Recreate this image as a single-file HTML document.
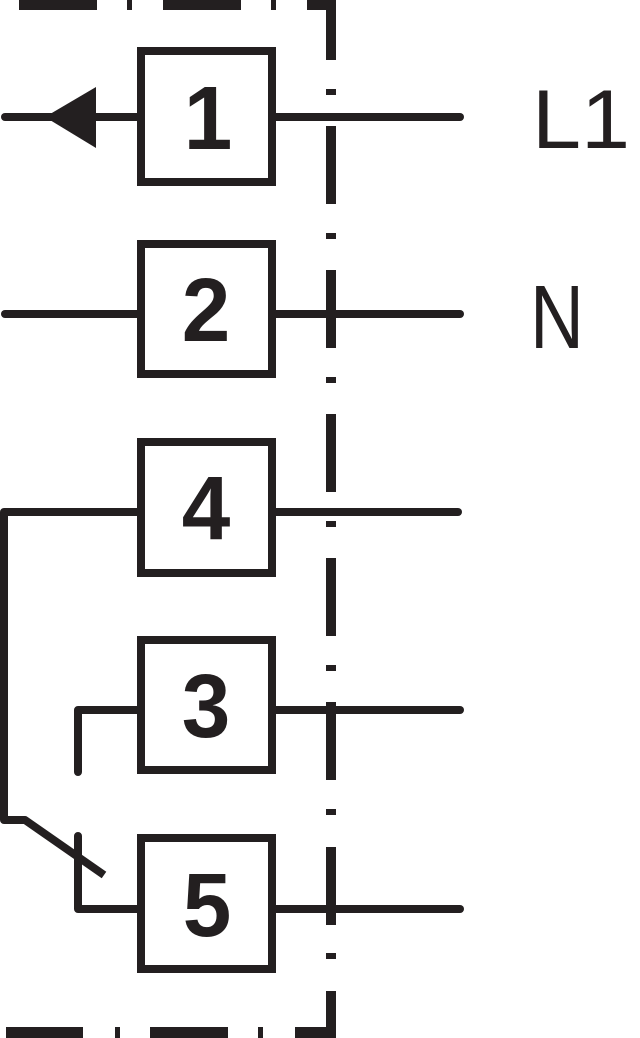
<!DOCTYPE html>
<html><head><style>
html,body{margin:0;padding:0;background:#fff;}
svg{display:block}
text{font-family:"Liberation Sans",sans-serif;fill:#231f20}
</style></head><body>
<svg width="640" height="1038" viewBox="0 0 640 1038">
<g fill="#231f20">
<rect x="19" y="0" width="78" height="10"/>
<rect x="127" y="0" width="5" height="10"/>
<rect x="163" y="0" width="78" height="10"/>
<rect x="271" y="0" width="5" height="10"/>
<rect x="307" y="0" width="29" height="10"/>
<rect x="326" y="0" width="10" height="60"/>
<rect x="326" y="89" width="10" height="6"/>
<rect x="326" y="126" width="10" height="78"/>
<rect x="326" y="233" width="10" height="6"/>
<rect x="326" y="270" width="10" height="78"/>
<rect x="326" y="377" width="10" height="6"/>
<rect x="326" y="414" width="10" height="78"/>
<rect x="326" y="521" width="10" height="6"/>
<rect x="326" y="558" width="10" height="78"/>
<rect x="326" y="665" width="10" height="6"/>
<rect x="326" y="702" width="10" height="78"/>
<rect x="326" y="809" width="10" height="6"/>
<rect x="326" y="847" width="10" height="78"/>
<rect x="326" y="953" width="10" height="6"/>
<rect x="326" y="991" width="10" height="47"/>
<rect x="6" y="1027" width="77" height="11"/>
<rect x="115" y="1027" width="5" height="11"/>
<rect x="150" y="1027" width="78" height="11"/>
<rect x="258" y="1027" width="5" height="11"/>
<rect x="295" y="1027" width="41" height="11"/>
<polygon points="45,117 96,87 96,148"/>
</g>
<g stroke="#231f20" stroke-width="8" fill="none" stroke-linecap="round" stroke-linejoin="round">
<line x1="5" y1="117" x2="137" y2="117"/>
<line x1="276" y1="117" x2="460" y2="117"/>
<line x1="5" y1="314" x2="137" y2="314"/>
<line x1="276" y1="314" x2="460" y2="314"/>
<polyline points="137,512 4,512 4,820 25,820 104,875" stroke-linecap="butt"/>
<line x1="276" y1="512" x2="458" y2="512"/>
<polyline points="137,710 78,710 78,772"/>
<line x1="276" y1="710" x2="460" y2="710"/>
<polyline points="78,836 78,909 137,909"/>
<line x1="276" y1="909" x2="460" y2="909"/>
</g>
<g stroke="#231f20" stroke-width="8" fill="#fff">
<rect x="141" y="51" width="131" height="131"/>
<rect x="141" y="244" width="131" height="130"/>
<rect x="141" y="442" width="131" height="131"/>
<rect x="141" y="640" width="131" height="130"/>
<rect x="141" y="838" width="131" height="131"/>
</g>
<g font-size="90" font-weight="bold" text-anchor="middle">
<text transform="translate(208,149) scale(0.97,1)">1</text>
<text transform="translate(206,341) scale(0.97,1)">2</text>
<text transform="translate(206,539) scale(0.97,1)">4</text>
<text transform="translate(206,737) scale(0.97,1)">3</text>
<text transform="translate(207,936) scale(0.97,1)">5</text>
</g>
<text transform="translate(532,148) scale(1.05,1)" font-size="84">L1</text>
<text transform="translate(530,348) scale(0.83,1)" font-size="90">N</text>
</svg>
</body></html>
